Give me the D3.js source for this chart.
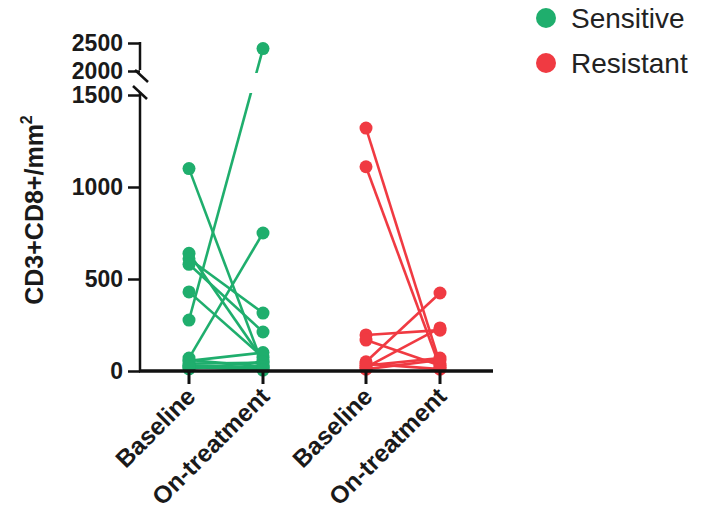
<!DOCTYPE html>
<html>
<head>
<meta charset="utf-8">
<script src="https://cdn.jsdelivr.net/npm/d3@7"></script>
<style>
  body { margin: 0; background: #fff; }
  svg { font-family: Arial, "Liberation Sans", sans-serif; }
</style>
</head>
<body>
<div id="chart"></div>
<script>
const groups = ['Sensitive', 'Resistant'];
const timepoints = ['Baseline', 'On-treatment'];
const colors = ['#1fae6d', '#f03a42'];

// paired values (baseline[i] -> onTreatment[i])
const sensitiveBaseline = [1100, 640, 610, 580, 430, 277, 70, 55, 40, 30, 20, 12, 60, 25];
const sensitiveOnTreatment = [30, 60, 315, 212, 75, 2400, 750, 100, 45, 20, 10, 50, 25, 5];
const resistantBaseline = [1320, 1110, 196, 168, 50, 20, 10, 40, 30];
const resistantOnTreatment = [40, 20, 222, 30, 424, 234, 60, 10, 70];

const yTicks = [0, 500, 1000, 1500, 2000, 2500];

const width = 708;
const height = 520;

const svg = d3.select('#chart')
  .append('svg')
  .attr('width', width)
  .attr('height', height);

// broken y axis: 0-1500 lower segment, 2000-2500 upper segment
const y = d3.scaleLinear()
  .domain([0, 1500, 2000, 2500])
  .range([371, 95, 71, 43]);

const xGroup = d3.scalePoint().domain(groups).range([226, 403]);
const xTime = d3.scalePoint().domain(timepoints).range([-37, 37]);
const x = (g, t) => xGroup(g) + xTime(t);

const series = [
  { group: 'Sensitive', base: sensitiveBaseline, on: sensitiveOnTreatment },
  { group: 'Resistant', base: resistantBaseline, on: resistantOnTreatment }
];

// clip so lines are cut in the axis break
const defs = svg.append('defs');
const clip = defs.append('clipPath').attr('id', 'brk');
clip.append('rect').attr('x', 0).attr('y', 0).attr('width', width).attr('height', 73);
clip.append('rect').attr('x', 0).attr('y', 93).attr('width', width).attr('height', height);

const plot = svg.append('g').attr('clip-path', 'url(#brk)');

series.forEach((s, gi) => {
  const pairs = s.base.map((b, i) => [b, s.on[i]]);
  plot.append('g')
    .selectAll('line')
    .data(pairs)
    .enter()
    .append('line')
    .attr('x1', x(s.group, 'Baseline'))
    .attr('x2', x(s.group, 'On-treatment'))
    .attr('y1', d => y(d[0]))
    .attr('y2', d => y(d[1]))
    .attr('stroke', colors[gi])
    .attr('stroke-width', 2.6);

  const pts = [];
  pairs.forEach(d => {
    pts.push({ t: 'Baseline', v: d[0] });
    pts.push({ t: 'On-treatment', v: d[1] });
  });
  plot.append('g')
    .selectAll('circle')
    .data(pts)
    .enter()
    .append('circle')
    .attr('cx', d => x(s.group, d.t))
    .attr('cy', d => y(d.v))
    .attr('r', 6.5)
    .attr('fill', colors[gi]);
});

// y axis, two segments
const axisX = 140;
const yLow = d3.axisLeft(d3.scaleLinear().domain([0, 1500]).range([y(0), y(1500)]))
  .tickValues(yTicks.filter(v => v <= 1500))
  .tickFormat(d3.format('d'))
  .tickSize(12)
  .tickPadding(5);
const yHigh = d3.axisLeft(d3.scaleLinear().domain([2000, 2500]).range([y(2000), y(2500)]))
  .tickValues(yTicks.filter(v => v >= 2000))
  .tickFormat(d3.format('d'))
  .tickSize(12)
  .tickPadding(5);

[yLow, yHigh].forEach(ax => {
  const g = svg.append('g')
    .attr('transform', `translate(${axisX},0)`)
    .call(ax);
  g.select('.domain').remove();
  g.selectAll('.tick line').attr('stroke', '#111').attr('stroke-width', 2.5);
  g.selectAll('.tick text')
    .attr('font-size', 23)
    .attr('font-weight', 'bold')
    .attr('fill', '#1a1a1a');
});
svg.append('line')
  .attr('x1', axisX).attr('x2', axisX)
  .attr('y1', y(2500) - 1).attr('y2', y(2000) - 1)
  .attr('stroke', '#111').attr('stroke-width', 2.5);
svg.append('line')
  .attr('x1', axisX).attr('x2', axisX)
  .attr('y1', 92).attr('y2', y(0))
  .attr('stroke', '#111').attr('stroke-width', 2.5);
// break slashes
svg.append('line')
  .attr('x1', axisX - 5).attr('y1', 70).attr('x2', axisX + 8).attr('y2', 82)
  .attr('stroke', '#111').attr('stroke-width', 2.5);
svg.append('line')
  .attr('x1', axisX - 7).attr('y1', 86).attr('x2', axisX + 7).attr('y2', 99)
  .attr('stroke', '#111').attr('stroke-width', 2.5);

// x axis
svg.append('line')
  .attr('x1', axisX - 1).attr('x2', 493)
  .attr('y1', y(0)).attr('y2', y(0))
  .attr('stroke', '#111').attr('stroke-width', 3.5);

const xLabels = [];
groups.forEach(g => timepoints.forEach(t => xLabels.push({ g, t })));

const xt = svg.append('g');
xt.selectAll('line')
  .data(xLabels)
  .enter()
  .append('line')
  .attr('x1', d => x(d.g, d.t))
  .attr('x2', d => x(d.g, d.t))
  .attr('y1', y(0))
  .attr('y2', y(0) + 13)
  .attr('stroke', '#111')
  .attr('stroke-width', 3);

xt.selectAll('text')
  .data(xLabels)
  .enter()
  .append('text')
  .attr('transform', d => `translate(${x(d.g, d.t) + 8},${y(0) + 27}) rotate(-45)`)
  .attr('text-anchor', 'end')
  .attr('font-size', 24.5)
  .attr('font-weight', 'bold')
  .attr('fill', '#1a1a1a')
  .text(d => d.t);

// y label
const yl = svg.append('text')
  .attr('transform', 'translate(43,210) rotate(-90)')
  .attr('text-anchor', 'middle')
  .attr('font-size', 25)
  .attr('font-weight', 'bold')
  .attr('fill', '#1a1a1a');
yl.append('tspan').text('CD3+CD8+/mm');
yl.append('tspan').attr('font-size', 16).attr('dy', -11).text('2');

// legend
const legend = svg.append('g')
  .selectAll('g')
  .data(groups)
  .enter()
  .append('g')
  .attr('transform', (d, i) => `translate(546,${18 + i * 45})`);
legend.append('circle')
  .attr('r', 10)
  .attr('fill', (d, i) => colors[i]);
legend.append('text')
  .attr('x', 25)
  .attr('dy', '0.35em')
  .attr('font-size', 28)
  .attr('fill', '#222')
  .text(d => d);
</script>
</body>
</html>
